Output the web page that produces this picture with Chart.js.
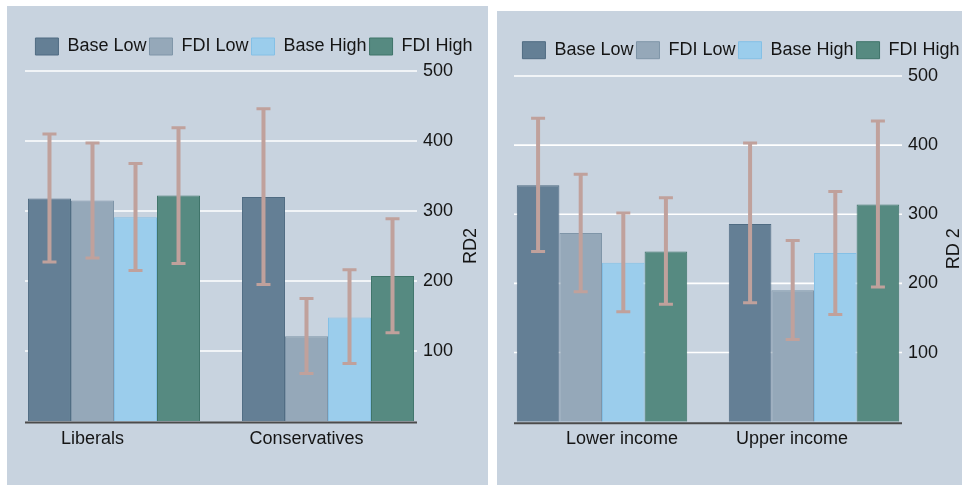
<!DOCTYPE html>
<html>
<head>
<meta charset="utf-8">
<script src="https://cdn.jsdelivr.net/npm/chart.js@4.4.1/dist/chart.umd.min.js"></script>
<style>
  html, body { margin: 0; padding: 0; background: #fff; width: 962px; height: 485px; overflow: hidden; }
  .panel { position: absolute; background: #c8d3df; }
  #bgLeft  { left: 7px;   top: 6px;  width: 481px; height: 479px; }
  #bgRight { left: 497px; top: 11px; width: 465px; height: 474px; }
  canvas { position: absolute; top: 0; }
  #left  { left: 7px; }
  #right { left: 496px; }
</style>
</head>
<body>
<div class="panel" id="bgLeft"></div>
<div class="panel" id="bgRight"></div>
<canvas id="left" width="494" height="485"></canvas>
<canvas id="right" width="490" height="485"></canvas>
<script>
// ─── DATA ────────────────────────────────────────────────────────────────────
const seriesNames = ['Base Low', 'FDI Low', 'Base High', 'FDI High'];
const yTicks = [100, 200, 300, 400, 500];

const ideologyGroups = ['Liberals', 'Conservatives'];
const ideologyMean = [[318, 320], [315, 121], [291, 148], [322, 207]];
const ideologyLow  = [[227, 195], [233, 68],  [215, 82],  [225, 126]];
const ideologyHigh = [[410, 446], [397, 175], [368, 216], [419, 289]];

const incomeGroups = ['Lower income', 'Upper income'];
const incomeMean = [[342, 286], [273, 190], [230, 244], [246, 314]];
const incomeLow  = [[246, 172], [188, 119], [159, 155], [170, 195]];
const incomeHigh = [[439, 403], [358, 262], [302, 333], [324, 435]];

// ─── STYLE ───────────────────────────────────────────────────────────────────
const FILL   = ['#647f95', '#95a8b9', '#9bcdec', '#568a81'];
const BORDER = ['#4f6b82', '#7f95a8', '#84c0e6', '#3f7469'];
const ERR = '#c0a19c';

Chart.defaults.font.family = "'Liberation Sans', Arial, sans-serif";
Chart.defaults.font.size = 18;
Chart.defaults.color = '#151515';

// gridlines, error bars, baseline and rotated axis title
const panelMarks = {
  id: 'panelMarks',
  beforeDatasetsDraw(chart, args, o) {
    const { ctx, chartArea: a, scales: { y } } = chart;
    ctx.save();
    ctx.strokeStyle = '#ffffff';
    ctx.lineWidth = 1.6;
    y.ticks.forEach(t => {
      const py = y.getPixelForValue(t.value);
      ctx.beginPath();
      ctx.moveTo(a.left + o.inset, py);
      ctx.lineTo(a.right - o.inset, py);
      ctx.stroke();
    });
    ctx.restore();
  },
  afterDatasetsDraw(chart, args, o) {
    const { ctx, chartArea: a, scales: { y } } = chart;
    ctx.save();
    ctx.strokeStyle = ERR;
    chart.data.datasets.forEach((ds, i) => {
      chart.getDatasetMeta(i).data.forEach((bar, j) => {
        const lo = y.getPixelForValue(ds.errLow[j]);
        const hi = y.getPixelForValue(ds.errHigh[j]);
        ctx.lineWidth = 4;
        ctx.beginPath(); ctx.moveTo(bar.x, lo); ctx.lineTo(bar.x, hi); ctx.stroke();
        ctx.lineWidth = 3;
        ctx.beginPath();
        ctx.moveTo(bar.x - 7, lo); ctx.lineTo(bar.x + 7, lo);
        ctx.moveTo(bar.x - 7, hi); ctx.lineTo(bar.x + 7, hi);
        ctx.stroke();
      });
    });
    // x axis line
    const y0 = y.getPixelForValue(0) + 1.5;
    ctx.strokeStyle = '#4b4b4b';
    ctx.lineWidth = 2;
    ctx.beginPath(); ctx.moveTo(a.left + o.inset, y0); ctx.lineTo(a.right - o.inset, y0); ctx.stroke();
    // y axis title, reading upward
    ctx.translate(y.left + o.titleOffset, (a.top + a.bottom) / 2);
    ctx.rotate(-Math.PI / 2);
    ctx.fillStyle = '#151515';
    ctx.font = "18px 'Liberation Sans', Arial, sans-serif";
    ctx.textAlign = 'center';
    ctx.textBaseline = 'middle';
    ctx.fillText(o.title, 0, 0);
    ctx.restore();
  }
};

function makePanel(canvasId, groups, means, lows, highs, opts) {
  const datasets = seriesNames.map((name, i) => ({
    label: name,
    data: means[i],
    errLow: lows[i],
    errHigh: highs[i],
    backgroundColor: FILL[i],
    borderColor: BORDER[i],
    borderWidth: 1,
    categoryPercentage: 0.804,
    barPercentage: 1,
    xAxisID: 'x',
    yAxisID: 'y',
  }));
  return new Chart(document.getElementById(canvasId), {
    type: 'bar',
    data: { labels: groups, datasets },
    plugins: [panelMarks],
    options: {
      responsive: false,
      animation: false,
      layout: { padding: { top: opts.padTop, left: 0, right: 0, bottom: 0 } },
      plugins: {
        legend: {
          position: 'top',
          align: 'center',
          labels: { boxWidth: 23, boxHeight: 17, padding: 3, color: '#151515', font: { size: 18 } },
        },
        tooltip: { enabled: false },
        panelMarks: { inset: 18, title: opts.title, titleOffset: opts.titleOffset },
      },
      scales: {
        x: { display: false, offset: true },
        gap: {
          type: 'category', position: 'top', offset: true,
          grid: { display: false, drawTicks: false }, border: { display: false }, ticks: { display: false },
          afterFit: s => { s.height = opts.gap; },
        },
        xl: {
          type: 'category', position: 'bottom', offset: true,
          grid: { display: false, drawTicks: false }, border: { display: false },
          ticks: {
            autoSkip: false, maxRotation: 0, padding: 7, color: '#151515',
            callback: (v, i) => groups[i],
          },
          afterBuildTicks: s => { s.ticks = s.ticks.map((t, i) => ({ value: t.value + opts.labelShift[i] })); },
          afterFit: s => { s.height = opts.bottom; },
        },
        y: {
          position: 'right', min: 0, max: 500,
          grid: { display: false, drawTicks: false }, border: { display: false },
          ticks: { mirror: true, padding: 18, color: '#151515' },
          afterBuildTicks: s => { s.ticks = yTicks.map(v => ({ value: v })); },
          afterFit: s => { s.width = 66; },
        },
      },
    },
  });
}

makePanel('left', ideologyGroups, ideologyMean, ideologyLow, ideologyHigh,
  { padTop: 34.5, gap: 5.5, bottom: 64, title: 'RD2', titleOffset: 36, labelShift: [-0.1, -0.1] });
makePanel('right', incomeGroups, incomeMean, incomeLow, incomeHigh,
  { padTop: 38.2, gap: 6.8, bottom: 63.3, title: 'RD 2', titleOffset: 34, labelShift: [0.094, -0.104] });
</script>
</body>
</html>
